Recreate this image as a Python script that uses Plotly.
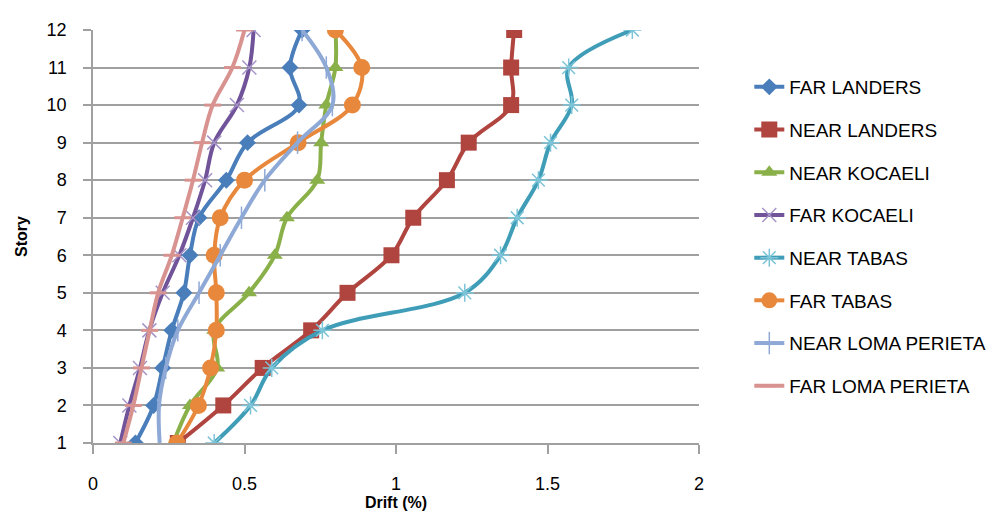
import plotly.graph_objects as go

stories = [1, 2, 3, 4, 5, 6, 7, 8, 9, 10, 11, 12]

far_landers = [0.14, 0.20, 0.23, 0.26, 0.30, 0.32, 0.35, 0.44, 0.51, 0.68, 0.65, 0.69]
near_landers = [0.28, 0.43, 0.56, 0.72, 0.84, 0.985, 1.057, 1.168, 1.24, 1.38, 1.38, 1.39]
near_kocaeli = [0.265, 0.32, 0.41, 0.40, 0.515, 0.60, 0.64, 0.74, 0.753, 0.77, 0.80, 0.80]
far_kocaeli = [0.09, 0.12, 0.155, 0.186, 0.23, 0.285, 0.33, 0.37, 0.40, 0.475, 0.516, 0.53]
near_tabas = [0.40, 0.52, 0.59, 0.757, 1.227, 1.345, 1.40, 1.47, 1.51, 1.58, 1.57, 1.78]
far_tabas = [0.277, 0.348, 0.388, 0.407, 0.407, 0.40, 0.42, 0.50, 0.677, 0.856, 0.887, 0.80]
near_loma = [0.22, 0.218, 0.24, 0.28, 0.35, 0.42, 0.49, 0.567, 0.675, 0.79, 0.77, 0.69]
far_loma = [0.10, 0.133, 0.16, 0.187, 0.215, 0.26, 0.296, 0.33, 0.36, 0.395, 0.46, 0.50]

series = [
    ("FAR LANDERS", far_landers, "#4A7EBB", "diamond", 13, "#4A7EBB", 0),
    ("NEAR LANDERS", near_landers, "#B0443F", "square", 16, "#B0443F", 0),
    ("NEAR KOCAELI", near_kocaeli, "#8AB04A", "triangle-up", 14, "#8AB04A", 0),
    ("FAR KOCAELI", far_kocaeli, "#71539A", "x-thin-open", 14, "#A594C8", 1.5),
    ("NEAR TABAS", near_tabas, "#3F9DB8", "asterisk-open", 15, "#7CC4D8", 1.5),
    ("FAR TABAS", far_tabas, "#E8883C", "circle", 17, "#E8883C", 0),
    ("NEAR LOMA PERIETA", near_loma, "#8EA9D6", "line-ns-open", 16, "#8EA9D6", 1.5),
    ("FAR LOMA PERIETA", far_loma, "#D8928F", "line-ew-open", 12, "#D8928F", 3),
]

fig = go.Figure()
for i, (name, xs, col, sym, size, mcol, mlw) in enumerate(series):
    marker = dict(symbol=sym, size=size, color=mcol)
    if mlw:
        marker["line"] = dict(color=mcol, width=mlw)
    fig.add_trace(go.Scatter(
        x=xs, y=stories, name=name, mode="lines+markers",
        line=dict(color=col, width=4, shape="spline", smoothing=1),
        marker=marker, legendgroup=f"g{i}",
    ))

font_family = "Liberation Sans, Arial, sans-serif"
fig.update_layout(
    width=995, height=513,
    margin=dict(l=78, r=303, t=12, b=78),
    paper_bgcolor="white", plot_bgcolor="white",
    font=dict(family=font_family, size=18, color="#000000"),
    showlegend=True,
    legend=dict(x=1.083, xanchor="left", y=0.5, yanchor="middle",
                font=dict(size=19), tracegroupgap=15, bgcolor="rgba(0,0,0,0)"),
    xaxis=dict(range=[0, 2], dtick=0.5, tick0=0, showgrid=False, zeroline=False,
               showline=True, linecolor="#A0A0A0", linewidth=1.5,
               ticks="outside", ticklen=9, tickcolor="#A0A0A0", tickwidth=1.5,
               ticklabelstandoff=15,
               title=dict(text="<b>Drift (%)</b>", font=dict(size=16), standoff=0)),
    yaxis=dict(range=[1, 12], dtick=1, tick0=1, showgrid=True, gridcolor="#A0A0A0",
               gridwidth=1.5, zeroline=False,
               showline=True, linecolor="#A0A0A0", linewidth=1.5,
               ticks="outside", ticklen=8, tickcolor="#A0A0A0", tickwidth=1.5,
               ticklabelstandoff=13,
               title=dict(text="<b>Story</b>", font=dict(size=16), standoff=15)),
)

fig.write_html("out.html")
